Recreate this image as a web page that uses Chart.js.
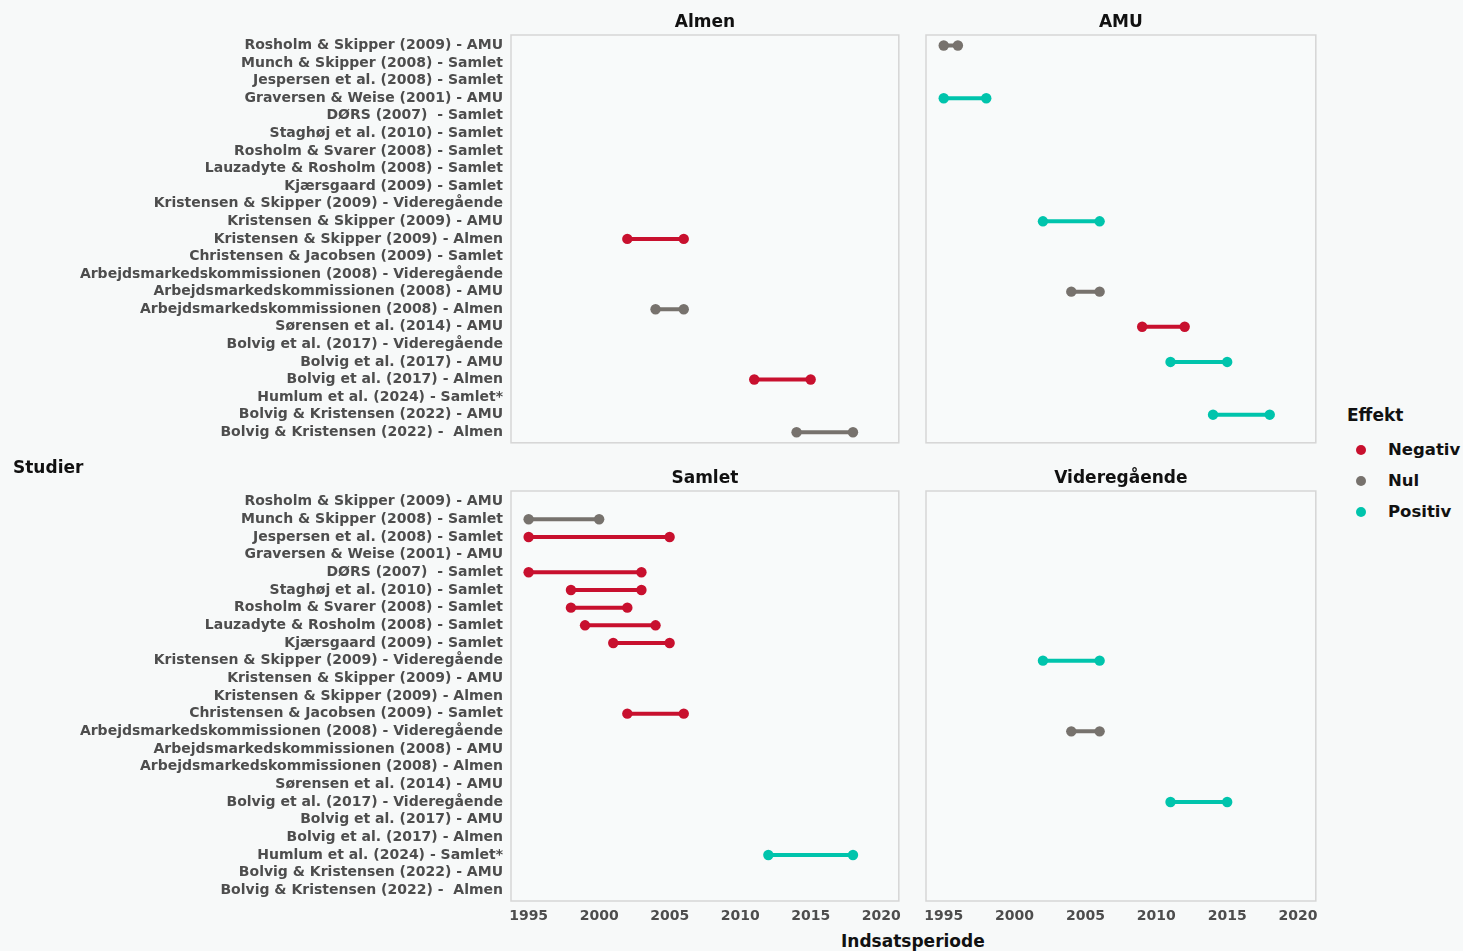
<!DOCTYPE html>
<html>
<head>
<meta charset="utf-8">
<script src="https://cdn.jsdelivr.net/npm/chart.js@4"></script>
<style>
  html, body { margin:0; padding:0; background:#F7F9F9; }
  body { width:1463px; height:951px; position:relative; overflow:hidden; font-family:"DejaVu Sans", sans-serif; }
  .cv { position:absolute; }
  .txt { position:absolute; font-weight:bold; color:#111; white-space:nowrap; line-height:20px; }
  .leg-dot { position:absolute; width:10px; height:10px; border-radius:50%; }
</style>
</head>
<body>
<canvas id="c0" class="cv" width="904" height="448" style="left:0;top:0"></canvas>
<canvas id="c1" class="cv" width="416" height="448" style="left:905px;top:0"></canvas>
<canvas id="c2" class="cv" width="904" height="475" style="left:0;top:456px"></canvas>
<canvas id="c3" class="cv" width="416" height="475" style="left:905px;top:456px"></canvas>

<div class="txt" style="left:13px;top:457px;font-size:17px;">Studier</div>
<div class="txt" style="left:841px;top:931px;font-size:17px;">Indsatsperiode</div>
<div class="txt" style="left:1347px;top:405px;font-size:17px;">Effekt</div>
<div class="leg-dot" style="left:1356px;top:445px;background:#C8102E"></div>
<div class="leg-dot" style="left:1356px;top:476px;background:#77726D"></div>
<div class="leg-dot" style="left:1356px;top:507px;background:#00C4AC"></div>
<div class="txt" style="left:1388px;top:440px;font-size:16.5px;">Negativ</div>
<div class="txt" style="left:1388px;top:471px;font-size:16.5px;">Nul</div>
<div class="txt" style="left:1388px;top:502px;font-size:16.5px;">Positiv</div>

<script>
// ---- Data ----
const studies = [
  "Rosholm & Skipper (2009) - AMU",
  "Munch & Skipper (2008) - Samlet",
  "Jespersen et al. (2008) - Samlet",
  "Graversen & Weise (2001) - AMU",
  "DØRS (2007)  - Samlet",
  "Staghøj et al. (2010) - Samlet",
  "Rosholm & Svarer (2008) - Samlet",
  "Lauzadyte & Rosholm (2008) - Samlet",
  "Kjærsgaard (2009) - Samlet",
  "Kristensen & Skipper (2009) - Videregående",
  "Kristensen & Skipper (2009) - AMU",
  "Kristensen & Skipper (2009) - Almen",
  "Christensen & Jacobsen (2009) - Samlet",
  "Arbejdsmarkedskommissionen (2008) - Videregående",
  "Arbejdsmarkedskommissionen (2008) - AMU",
  "Arbejdsmarkedskommissionen (2008) - Almen",
  "Sørensen et al. (2014) - AMU",
  "Bolvig et al. (2017) - Videregående",
  "Bolvig et al. (2017) - AMU",
  "Bolvig et al. (2017) - Almen",
  "Humlum et al. (2024) - Samlet*",
  "Bolvig & Kristensen (2022) - AMU",
  "Bolvig & Kristensen (2022) -  Almen"
];
const panels = ["Almen", "AMU", "Samlet", "Videregående"];
const effects = ["Negativ", "Nul", "Positiv"];
const xTicks = [1995, 2000, 2005, 2010, 2015, 2020];

const recStudy = [
  "Kristensen & Skipper (2009) - Almen",
  "Arbejdsmarkedskommissionen (2008) - Almen",
  "Bolvig et al. (2017) - Almen",
  "Bolvig & Kristensen (2022) -  Almen",
  "Rosholm & Skipper (2009) - AMU",
  "Graversen & Weise (2001) - AMU",
  "Kristensen & Skipper (2009) - AMU",
  "Arbejdsmarkedskommissionen (2008) - AMU",
  "Sørensen et al. (2014) - AMU",
  "Bolvig et al. (2017) - AMU",
  "Bolvig & Kristensen (2022) - AMU",
  "Munch & Skipper (2008) - Samlet",
  "Jespersen et al. (2008) - Samlet",
  "DØRS (2007)  - Samlet",
  "Staghøj et al. (2010) - Samlet",
  "Rosholm & Svarer (2008) - Samlet",
  "Lauzadyte & Rosholm (2008) - Samlet",
  "Kjærsgaard (2009) - Samlet",
  "Christensen & Jacobsen (2009) - Samlet",
  "Humlum et al. (2024) - Samlet*",
  "Kristensen & Skipper (2009) - Videregående",
  "Arbejdsmarkedskommissionen (2008) - Videregående",
  "Bolvig et al. (2017) - Videregående"
];
const recPanel = [
  "Almen","Almen","Almen","Almen",
  "AMU","AMU","AMU","AMU","AMU","AMU","AMU",
  "Samlet","Samlet","Samlet","Samlet","Samlet","Samlet","Samlet","Samlet","Samlet",
  "Videregående","Videregående","Videregående"
];
const recStart = [2002, 2004, 2011, 2014, 1995, 1995, 2002, 2004, 2009, 2011, 2014, 1995, 1995, 1995, 1998, 1998, 1999, 2001, 2002, 2012, 2002, 2004, 2011];
const recEnd   = [2006, 2006, 2015, 2018, 1996, 1998, 2006, 2006, 2012, 2015, 2018, 2000, 2005, 2003, 2003, 2002, 2004, 2005, 2006, 2018, 2006, 2006, 2015];
const recEffect = [
  "Negativ","Nul","Negativ","Nul",
  "Nul","Positiv","Positiv","Nul","Negativ","Positiv","Positiv",
  "Nul","Negativ","Negativ","Negativ","Negativ","Negativ","Negativ","Negativ","Positiv",
  "Positiv","Nul","Positiv"
];

// ---- Styling ----
const effectColors = { "Negativ": "#C8102E", "Nul": "#77726D", "Positiv": "#00C4AC" };
const FONT = "'DejaVu Sans', sans-serif";

const panelPlugin = {
  id: 'panelBox',
  beforeDatasetsDraw(chart) {
    const a = chart.chartArea, ctx = chart.ctx;
    ctx.save();
    ctx.fillStyle = '#F8FAFA';
    ctx.fillRect(a.left, a.top, a.right - a.left, a.bottom - a.top);
    ctx.strokeStyle = '#D6D6D6';
    ctx.lineWidth = 1.5;
    ctx.strokeRect(a.left, a.top, a.right - a.left, a.bottom - a.top);
    ctx.restore();
  }
};

function zeroPad(sc) { sc.paddingLeft = 0; sc.paddingRight = 0; sc.paddingTop = 0; sc.paddingBottom = 0; }

function makeChart(id, panel, showY, showX, pad) {
  const datasets = [];
  recStudy.forEach((s, i) => {
    if (recPanel[i] !== panel) return;
    const y = studies.indexOf(s);
    const col = effectColors[recEffect[i]];
    datasets.push({
      label: s,
      data: [{ x: recStart[i], y: y }, { x: recEnd[i], y: y }],
      borderColor: col,
      backgroundColor: col,
      pointBackgroundColor: col,
      pointBorderWidth: 0,
      pointRadius: 5.2,
      borderWidth: 4,
      tension: 0
    });
  });
  new Chart(document.getElementById(id), {
    type: 'line',
    data: { datasets },
    plugins: [panelPlugin],
    options: {
      responsive: false,
      animation: false,
      devicePixelRatio: 1,
      layout: { padding: pad },
      plugins: {
        legend: { display: false },
        tooltip: { enabled: false },
        title: {
          display: true, text: panel, fullSize: false, color: '#111',
          font: { family: FONT, size: 17, weight: 'bold', lineHeight: 1.2 },
          padding: { top: 12, bottom: 2.6 }
        }
      },
      scales: {
        x: {
          type: 'linear', min: 1993.75, max: 2021.25,
          display: showX,
          grid: { display: false, drawTicks: false },
          border: { display: false },
          afterBuildTicks: (sc) => { sc.ticks = xTicks.map(v => ({ value: v })); },
          afterFit: (sc) => { if (showX) sc.height = 30; zeroPad(sc); },
          ticks: {
            autoSkip: false, maxRotation: 0, padding: 7, color: '#4D4D4D',
            font: { family: FONT, size: 14, weight: 'bold' },
            callback: (v) => String(v)
          }
        },
        y: {
          type: 'linear', min: -0.6, max: studies.length - 0.4, reverse: true,
          display: showY,
          grid: { display: false, drawTicks: false },
          border: { display: false },
          afterBuildTicks: (sc) => { sc.ticks = studies.map((_, i) => ({ value: i })); },
          afterFit: (sc) => { if (showY) sc.width = 511; zeroPad(sc); },
          ticks: {
            autoSkip: false, padding: 8, color: '#4D4D4D',
            font: { family: FONT, size: 14, weight: 'bold' },
            callback: (v) => studies[v]
          }
        }
      }
    }
  });
}

makeChart('c0', 'Almen', true, false, { left: 0, right: 2, top: 0, bottom: 1 });
makeChart('c1', 'AMU', false, false, { left: 21, right: 2, top: 0, bottom: 1 });
makeChart('c2', 'Samlet', true, true, { left: 0, right: 2, top: 0, bottom: 0 });
makeChart('c3', 'Videregående', false, true, { left: 21, right: 2, top: 0, bottom: 0 });
</script>
</body>
</html>
